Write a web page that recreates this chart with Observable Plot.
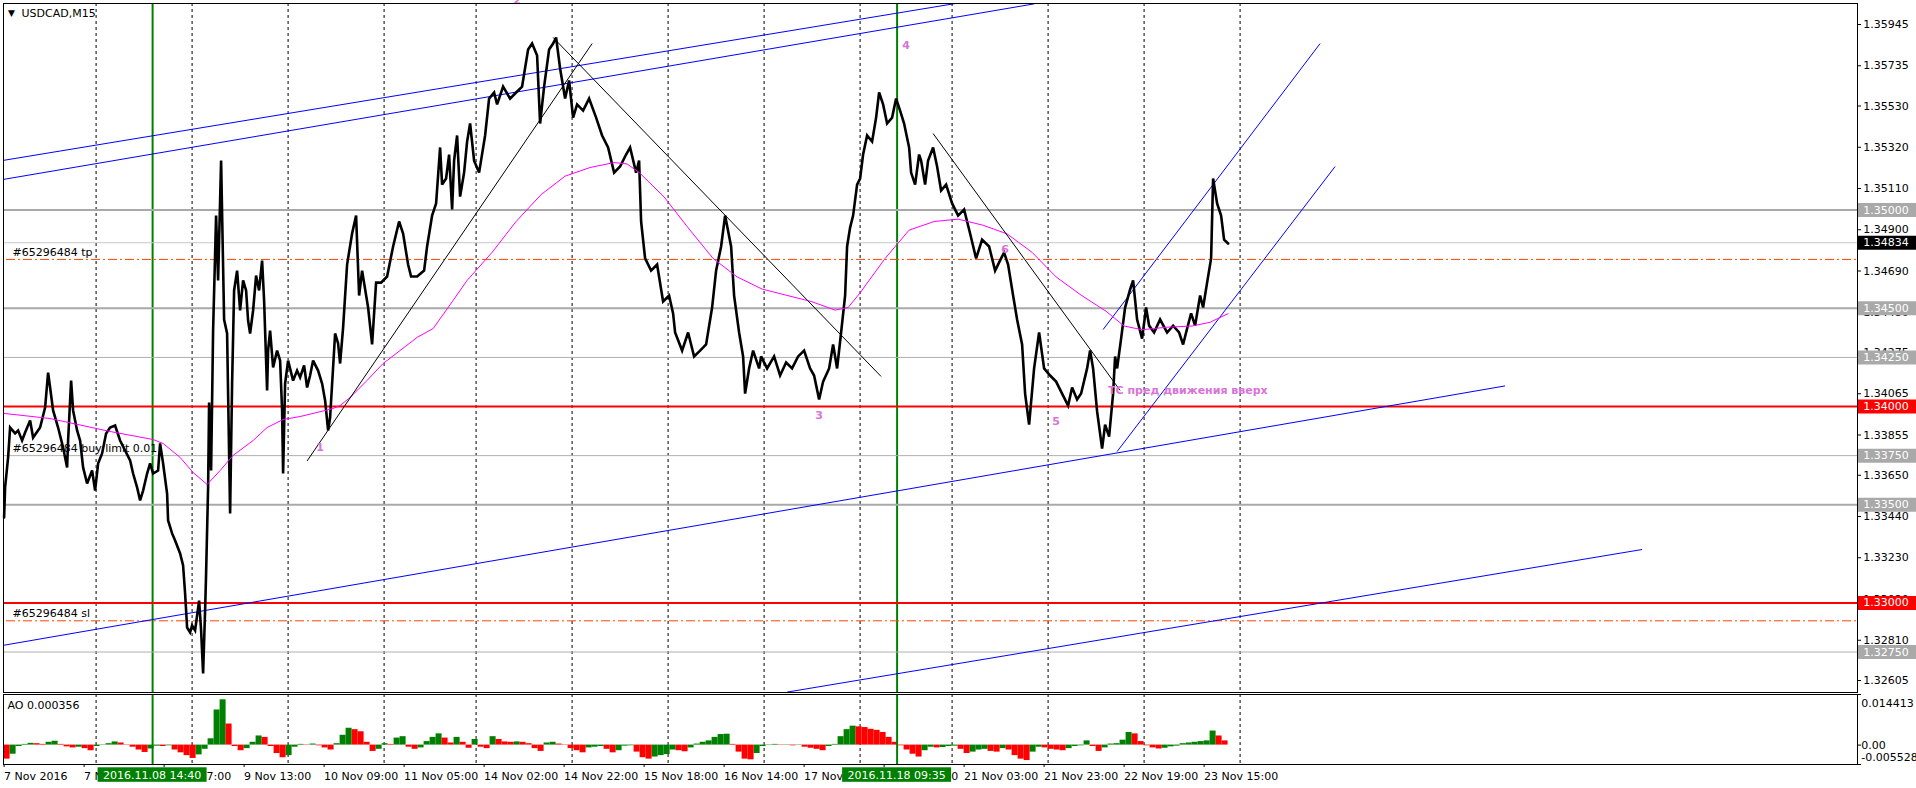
<!DOCTYPE html>
<html><head><meta charset="utf-8">
<script src="https://cdn.jsdelivr.net/npm/d3@7"></script>
<script src="https://cdn.jsdelivr.net/npm/@observablehq/plot@0.6"></script>
<style>
html,body{margin:0;padding:0;background:#fff;}
#wrap{position:relative;width:1916px;height:788px;overflow:hidden;background:#fff;}
#main,#ao{position:absolute;left:0;}
#main{top:0}
#ao{top:693px}
</style></head><body><div id="wrap"><div id="main"></div><div id="ao"></div></div>
<script>
// ---------- DATA ----------
// bar index (M15 bars since 7 Nov 2016 01:00) and price
const priceSeries = [[0,1.33435],[1,1.33588],[4,1.33740],[6,1.33893],[11,1.33863],[14,1.33878],[18,1.33827],[21,1.33868],[26,1.33929],[29,1.33842],[36,1.33893],[41,1.33995],[44,1.34173],[46,1.34097],[49,1.33980],[54,1.33893],[59,1.33791],[63,1.33690],[64,1.33827],[67,1.34132],[69,1.33980],[73,1.33878],[76,1.33827],[79,1.33690],[83,1.33608],[88,1.33674],[91,1.33572],[94,1.33710],[98,1.33761],[102,1.33863],[106,1.33893],[111,1.33903],[116,1.33827],[121,1.33776],[126,1.33725],[129,1.33659],[133,1.33588],[136,1.33522],[139,1.33572],[143,1.33659],[146,1.33710],[149,1.33659],[154,1.33674],[156,1.33812],[159,1.33710],[163,1.33557],[164,1.33420],[168,1.33354],[171,1.33318],[176,1.33252],[179,1.33191],[181,1.33048],[183,1.32875],[186,1.32850],[188,1.32885],[191,1.32860],[195,1.33012],[197,1.32860],[199,1.32641],[201,1.32962],[202,1.33150],[204,1.33588],[205,1.34020],[207,1.33674],[209,1.34387],[212,1.34972],[214,1.34642],[217,1.35252],[220,1.34443],[223,1.34372],[226,1.33455],[228,1.34117],[230,1.34591],[233,1.34692],[236,1.34489],[239,1.34642],[242,1.34591],[244,1.34438],[246,1.34372],[249,1.34489],[252,1.34667],[255,1.34591],[258,1.34743],[260,1.34540],[263,1.34082],[264,1.34285],[266,1.34387],[269,1.34199],[273,1.34285],[276,1.34234],[278,1.33980],[279,1.33659],[281,1.34117],[284,1.34234],[289,1.34132],[293,1.34183],[296,1.34148],[300,1.34209],[303,1.34097],[306,1.34158],[309,1.34234],[314,1.34183],[318,1.34117],[321,1.34031],[324,1.33878],[326,1.33944],[329,1.34199],[331,1.34372],[334,1.34321],[336,1.34219],[339,1.34402],[343,1.34723],[348,1.34881],[352,1.34972],[355,1.34565],[358,1.34692],[364,1.34504],[368,1.34316],[372,1.34631],[377,1.34631],[383,1.34662],[389,1.34815],[395,1.34942],[399,1.34881],[404,1.34723],[407,1.34662],[413,1.34662],[420,1.34692],[423,1.34815],[428,1.34972],[432,1.35034],[436,1.35319],[438,1.35130],[442,1.35161],[445,1.35283],[448,1.35003],[450,1.35252],[453,1.35380],[456,1.35069],[460,1.35191],[463,1.35349],[466,1.35441],[470,1.35252],[475,1.35191],[481,1.35380],[485,1.35568],[490,1.35599],[493,1.35538],[499,1.35629],[506,1.35568],[512,1.35599],[518,1.35629],[524,1.35818],[528,1.35848],[533,1.35787],[536,1.35441],[540,1.35629],[545,1.35818],[549,1.35848],[552,1.35879],[556,1.35721],[561,1.35568],[565,1.35660],[569,1.35471],[573,1.35538],[579,1.35507],[585,1.35568],[592,1.35471],[598,1.35380],[604,1.35319],[610,1.35191],[616,1.35222],[622,1.35283],[626,1.35319],[632,1.35191],[635,1.35252],[637,1.34942],[641,1.34754],[647,1.34692],[653,1.34723],[659,1.34535],[665,1.34565],[669,1.34474],[671,1.34377],[678,1.34285],[684,1.34377],[690,1.34255],[696,1.34285],[702,1.34316],[708,1.34504],[712,1.34692],[717,1.34815],[721,1.34972],[727,1.34815],[730,1.34565],[735,1.34377],[739,1.34255],[741,1.34066],[745,1.34194],[749,1.34285],[755,1.34194],[757,1.34255],[763,1.34194],[770,1.34255],[776,1.34158],[782,1.34224],[788,1.34194],[794,1.34255],[800,1.34285],[806,1.34194],[810,1.34158],[815,1.34036],[819,1.34127],[825,1.34194],[829,1.34316],[833,1.34194],[837,1.34377],[841,1.34565],[843,1.34815],[846,1.34911],[849,1.34972],[853,1.35130],[856,1.35161],[859,1.35283],[863,1.35380],[868,1.35349],[872,1.35471],[875,1.35599],[879,1.35538],[883,1.35441],[888,1.35471],[892,1.35568],[896,1.35507],[900,1.35441],[905,1.35319],[907,1.35191],[911,1.35130],[915,1.35283],[917,1.35252],[921,1.35130],[924,1.35252],[929,1.35319],[933,1.35222],[937,1.35100],[942,1.35130],[948,1.35034],[954,1.34972],[960,1.35003],[966,1.34881],[972,1.34754],[978,1.34850],[985,1.34815],[991,1.34692],[997,1.34754],[1000,1.34784],[1004,1.34723],[1009,1.34565],[1013,1.34443],[1018,1.34316],[1021,1.34066],[1025,1.33908],[1030,1.34194],[1035,1.34377],[1040,1.34194],[1046,1.34158],[1052,1.34127],[1058,1.34066],[1064,1.34005],[1068,1.34097],[1073,1.34036],[1077,1.34066],[1083,1.34194],[1086,1.34285],[1089,1.34194],[1093,1.33975],[1098,1.33786],[1101,1.33908],[1105,1.33847],[1109,1.34066],[1111,1.34255],[1113,1.34194],[1117,1.34346],[1121,1.34504],[1126,1.34596],[1129,1.34642],[1133,1.34443],[1138,1.34346],[1142,1.34504],[1145,1.34412],[1150,1.34377],[1156,1.34443],[1163,1.34377],[1169,1.34412],[1175,1.34377],[1179,1.34316],[1182,1.34377],[1187,1.34474],[1191,1.34412],[1196,1.34565],[1199,1.34504],[1203,1.34631],[1207,1.34754],[1209,1.35161],[1213,1.35034],[1217,1.34972],[1220,1.34850],[1224,1.34830]];

// moving average (magenta)
const maSeries = [[0,1.33965],[46,1.33939],[106,1.33873],[149,1.33832],[159,1.33812],[176,1.33741],[189,1.33664],[203,1.33603],[216,1.33674],[229,1.33751],[249,1.33827],[263,1.33893],[279,1.33934],[296,1.33949],[313,1.33970],[329,1.33990],[336,1.34005],[346,1.34046],[363,1.34133],[379,1.34219],[396,1.34285],[413,1.34352],[429,1.34397],[449,1.34540],[463,1.34642],[488,1.34785],[512,1.34942],[537,1.35079],[561,1.35173],[586,1.35217],[610,1.35242],[623,1.35235],[635,1.35192],[660,1.35067],[684,1.34910],[709,1.34754],[733,1.34660],[758,1.34598],[782,1.34567],[807,1.34535],[831,1.34491],[844,1.34504],[856,1.34579],[881,1.34754],[905,1.34898],[930,1.34942],[954,1.34954],[979,1.34923],[1003,1.34879],[1028,1.34785],[1052,1.34660],[1077,1.34567],[1102,1.34485],[1120,1.34410],[1138,1.34391],[1163,1.34404],[1188,1.34410],[1206,1.34429],[1224,1.34473]];

// Awesome Oscillator, one reading every 6 bars starting at bar 0
const aoStep = 6;
const aoValues = [-0.0040,-0.0026,-0.0004,0.0002,0.0005,0.0004,0.0002,0.0008,0.0011,0.0002,
 -0.0005,-0.0008,-0.0006,-0.0010,-0.0016,-0.0004,0.0001,0.0004,0.0009,0.0006,
 0.0001,-0.0006,-0.0014,-0.0021,-0.0011,-0.0003,-0.0004,-0.0002,-0.0014,-0.0022,
 -0.0030,-0.0038,-0.0028,-0.0012,0.0018,0.0100,0.0129,0.0060,-0.0004,-0.0016,
 -0.0010,0.0008,0.0026,0.0022,-0.0004,-0.0024,-0.0036,-0.0030,-0.0006,0.0002,
 0.0001,0.0003,-0.0002,-0.0008,-0.0014,0.0004,0.0028,0.0048,0.0044,0.0038,
 0.0008,-0.0018,-0.0012,0.0004,0.0002,0.0020,0.0024,-0.0006,-0.0012,-0.0008,
 0.0010,0.0022,0.0032,0.0020,0.0006,0.0022,0.0008,-0.0009,0.0016,-0.0006,
 -0.0010,0.0024,0.0016,0.0009,0.0008,0.0009,0.0008,0.0004,-0.0010,-0.0018,
 0.0006,0.0008,0.0003,0.0001,-0.0010,-0.0016,-0.0022,-0.0008,-0.0006,-0.0004,
 -0.0012,-0.0022,-0.0016,-0.0003,-0.0002,-0.0020,-0.0036,-0.0040,-0.0034,-0.0030,
 -0.0027,-0.0014,-0.0016,-0.0019,-0.0008,0.0003,0.0008,0.0012,0.0022,0.0030,
 0.0031,0.0002,-0.0020,-0.0040,-0.0042,-0.0024,-0.0004,0.0001,0.0002,-0.0001,
 0.0001,-0.0002,-0.0001,-0.0006,-0.0009,-0.0012,-0.0016,-0.0004,0.0002,0.0024,
 0.0044,0.0054,0.0052,0.0050,0.0045,0.0042,0.0036,0.0022,0.0008,-0.0002,
 -0.0014,-0.0026,-0.0034,-0.0016,-0.0006,-0.0008,-0.0007,-0.0004,-0.0003,-0.0012,
 -0.0024,-0.0020,-0.0014,-0.0012,-0.0018,-0.0020,-0.0010,-0.0014,-0.0030,-0.0040,
 -0.0044,-0.0020,-0.0006,-0.0008,-0.0012,-0.0014,-0.0016,-0.0010,-0.0004,-0.0002,
 0.0012,-0.0004,-0.0018,-0.0008,0.0003,0.0004,0.0014,0.0036,0.0032,0.0010,
 -0.0002,-0.0008,-0.0011,-0.0009,-0.0005,-0.0003,0.0004,0.0006,0.0008,0.0010,
 0.0012,0.0040,0.0026,0.0012];
const aoTicks = [0.014413, 0, -0.005528];
const aoTickLabels = ["0.014413", "0.00", "-0.005528"];
const aoTitle = "AO 0.000356";

// horizontal levels
const thickGrayLevels = [1.35, 1.345, 1.335];
const thinGrayLevels = [1.3425, 1.3375, 1.3275];
const redLevels = [1.34, 1.33];
const bidPrice = 1.34834;
const tpPrice = 1.34749, slPrice = 1.32909, buyLimitPrice = 1.3375;
const orderLabels = ["#65296484 tp", "#65296484 buy limit 0.01", "#65296484 sl"];
const orderPrices = [tpPrice, buyLimitPrice, slPrice];

// price axis ticks
const priceTicks = [1.35945,1.35735,1.35530,1.35320,1.35110,1.34900,1.34690,1.34480,1.34275,1.34065,1.33855,1.33650,1.33440,1.33230,1.33020,1.32810,1.32605];

// time axis
const timeLabelBars = [0,80,160,240,320,400,480,560,640,720,800,880,960,1040,1120,1200];
const timeLabels = ["7 Nov 2016","7 Nov 21:00","8 Nov 17:00","9 Nov 13:00","10 Nov 09:00","11 Nov 05:00","14 Nov 02:00","14 Nov 22:00","15 Nov 18:00","16 Nov 14:00","17 Nov 10:00","18 Nov 06:00","21 Nov 03:00","21 Nov 23:00","22 Nov 19:00","23 Nov 15:00"];
const separatorBars = [92,188,284,380,472,568,664,760,856,948,1044,1140,1236];
const markerBars = [148.5, 893];
const markerLabels = ["2016.11.08 14:40", "2016.11.18 09:35"];

// drawn objects
const blackLines = [
  {b1:303,p1:1.33723,b2:588,p2:1.35848},
  {b1:549,p1:1.35879,b2:877,p2:1.34153},
  {b1:929,p1:1.35390,b2:1116,p2:1.34082}];
const blueLines = [
  {b1:-1,p1:1.35253,b2:955,p2:1.36055},
  {b1:-1,p1:1.35156,b2:1030,p2:1.36050},
  {b1:-1,p1:1.32784,b2:1501,p2:1.34105},
  {b1:783,p1:1.32546,b2:1638,p2:1.33272},
  {b1:1099,p1:1.34392,b2:1316,p2:1.35848},
  {b1:1113,p1:1.33771,b2:1331,p2:1.35222}];
const waveLabels = ["1","2","3","4","5","6"];
const waveBars = [316,513,815,902,1052,1001];
const wavePrices = [1.33791,1.36067,1.33954,1.35838,1.33924,1.34799];
const noteText = "ТС пред движения вверх";
const noteBar = 1104, notePrice = 1.34082;
const symbolTitle = "USDCAD,M15";

// ---------- CHART ----------
const font = "DejaVu Sans, sans-serif";
const xDomain = [-0.6, 1853.4];
const boxX1 = 1854.4, boxX2 = 1912.4, boxTextX = 1859.1;
const style = {fontFamily: font, fontSize: "11px", background: "white", color: "black"};
const priceFmt = d => d.toFixed(5);
const violet = "#d873d8";

const main = Plot.plot({
  width: 1916, height: 693,
  marginTop: 3, marginRight: 59, marginBottom: 1, marginLeft: 3,
  x: {domain: xDomain, axis: null},
  y: {domain: [1.32544, 1.36052], axis: null},
  style,
  marks: [
    Plot.ruleX(separatorBars, {stroke: "black", strokeDasharray: "3,3"}),
    Plot.ruleX(markerBars, {stroke: "#008000", strokeWidth: 2}),
    Plot.ruleY(thickGrayLevels, {stroke: "#a9a9a9", strokeWidth: 2}),
    Plot.ruleY(thinGrayLevels, {stroke: "#b0b0b0", strokeWidth: 1}),
    Plot.ruleY([bidPrice], {stroke: "#c8c8c8", strokeWidth: 1}),
    Plot.ruleY([tpPrice, slPrice], {x1: () => 2.4, x2: xDomain[1], stroke: "#ff4500", strokeWidth: 1, strokeDasharray: "9,3,2,3"}),
    Plot.ruleY(redLevels, {stroke: "#ff0000", strokeWidth: 2}),
    Plot.link(blueLines, {x1: "b1", y1: "p1", x2: "b2", y2: "p2", stroke: "#0000ff", strokeWidth: 1, clip: true}),
    Plot.line(priceSeries, {x: d => d[0], y: d => d[1], stroke: "black", strokeWidth: 2.6, strokeLinejoin: "miter", strokeMiterlimit: 3}),
    Plot.line(maSeries, {x: d => d[0], y: d => d[1], stroke: "#ff00ff", strokeWidth: 1}),
    Plot.link(blackLines, {x1: "b1", y1: "p1", x2: "b2", y2: "p2", stroke: "black", strokeWidth: 1, clip: true}),
    Plot.text(orderLabels, {x: () => 8.4, y: (d, i) => orderPrices[i], text: d => d, textAnchor: "start", dy: -7, fill: "black"}),
    Plot.text(waveLabels, {x: (d, i) => waveBars[i], y: (d, i) => wavePrices[i], text: d => d, fill: violet, fontWeight: "bold", fontSize: 11}),
    Plot.text([noteText], {x: () => noteBar, y: () => notePrice, text: d => d, textAnchor: "start", fill: violet, fontWeight: "bold", fontSize: 11}),
    Plot.text(["▼"], {frameAnchor: "top-left", dx: 8, dy: 10, textAnchor: "middle", lineAnchor: "middle", fontSize: 9}),
    Plot.text([symbolTitle], {frameAnchor: "top-left", dx: 18, dy: 10, textAnchor: "start", lineAnchor: "middle"}),
    Plot.axisY({anchor: "right", ticks: priceTicks, tickSize: 3, tickPadding: 2.7, tickFormat: priceFmt, fontSize: 11, label: null}),
    Plot.ruleY([...thickGrayLevels, ...thinGrayLevels], {x1: () => boxX1, x2: () => boxX2, stroke: "#a9a9a9", strokeWidth: 14}),
    Plot.ruleY(redLevels, {x1: () => boxX1, x2: () => boxX2, stroke: "#ff0000", strokeWidth: 14}),
    Plot.ruleY([bidPrice], {x1: () => boxX1, x2: () => boxX2, stroke: "black", strokeWidth: 14}),
    Plot.text([...thickGrayLevels, ...thinGrayLevels, ...redLevels, bidPrice], {x: () => boxTextX, y: d => d, text: priceFmt, textAnchor: "start", fill: "white", fontSize: 11}),
    Plot.frame({stroke: "black"})
  ]
});
document.getElementById("main").appendChild(main);

const aoData = aoValues.map((v, i) => ({b: i * aoStep, v, up: i === 0 ? v > 0 : v > aoValues[i - 1]}));
const labelMap = new Map(timeLabelBars.map((b, i) => [b, timeLabels[i]]));

const ao = Plot.plot({
  width: 1916, height: 95,
  marginTop: 1, marginRight: 59, marginBottom: 24, marginLeft: 3,
  x: {domain: xDomain, axis: null},
  y: {domain: [aoTicks[2], aoTicks[0]], axis: null},
  style,
  marks: [
    Plot.ruleX(separatorBars, {stroke: "black", strokeDasharray: "3,3"}),
    Plot.rect(aoData.filter(d => d.up), {x1: "b", x2: d => d.b + aoStep, y1: 0, y2: "v", fill: "#008000"}),
    Plot.rect(aoData.filter(d => !d.up), {x1: "b", x2: d => d.b + aoStep, y1: 0, y2: "v", fill: "#ff0000"}),
    Plot.ruleX(markerBars, {stroke: "#008000", strokeWidth: 2}),
    Plot.text([aoTitle], {frameAnchor: "top-left", dx: 4, dy: 11, textAnchor: "start", lineAnchor: "middle"}),
    Plot.axisY({anchor: "right", ticks: aoTicks, tickSize: 3, tickFormat: () => "", label: null}),
    Plot.text([aoTickLabels[0]], {x: () => 1857.1, y: () => aoTicks[0], text: d => d, textAnchor: "start", dy: 8.7}),
    Plot.text([aoTickLabels[1]], {x: () => 1857.1, y: () => aoTicks[1], text: d => d, textAnchor: "start"}),
    Plot.text([aoTickLabels[2]], {x: () => 1857.1, y: () => aoTicks[2], text: d => d, textAnchor: "start", dy: -7.3}),
    Plot.frame({stroke: "black"}),
    Plot.axisX({anchor: "bottom", ticks: timeLabelBars, tickFormat: d => labelMap.get(d), textAnchor: "start", tickSize: 3, tickPadding: 5, fontSize: 11, label: null})
  ]
});
document.getElementById("ao").appendChild(ao);

// green time-stamp boxes for the vertical marker lines, placed with Plot's x scale
const sx = ao.scale("x");
const svg = d3.select(ao);
markerBars.forEach((b, i) => {
  const cx = sx.apply(b);
  svg.append("rect").attr("x", cx - 54.5).attr("y", 74.3).attr("width", 109).attr("height", 14.5).attr("fill", "#008000");
  svg.append("text").attr("x", cx).attr("y", 86.3).attr("text-anchor", "middle").attr("fill", "white")
    .attr("font-family", font).attr("font-size", 11).text(markerLabels[i]);
});
</script></body></html>
